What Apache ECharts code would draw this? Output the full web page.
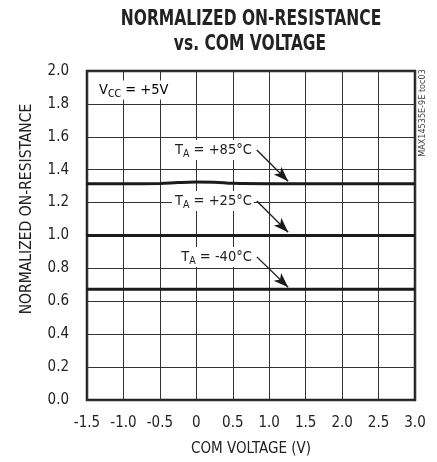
<!DOCTYPE html>
<html>
<head>
<meta charset="utf-8">
<script src="https://cdn.jsdelivr.net/npm/echarts@6/dist/echarts.min.js"></script>
<style>
html,body{margin:0;padding:0;background:#fff;}
#c{width:437px;height:462px;}
</style>
</head>
<body>
<div id="c"></div>
<script>
var FONT = '"Liberation Sans Narrow","DejaVu Sans Condensed",sans-serif';

// tick labels
var xTicks = ['-1.5','-1.0','-0.5','0','0.5','1.0','1.5','2.0','2.5','3.0'];
var yTicks = ['0.0','0.2','0.4','0.6','0.8','1.0','1.2','1.4','1.6','1.8','2.0'];

// series: COM voltage (V) vs normalized on-resistance
var comVoltage = [-1.5, -1.0, -0.5, -0.25, 0, 0.25, 0.5, 1.0, 1.5, 2.0, 2.5, 3.0];
var r85  = [1.315, 1.315, 1.316, 1.322, 1.325, 1.324, 1.317, 1.315, 1.315, 1.315, 1.315, 1.315];
var r25  = [1.0, 1.0, 1.0, 1.0, 1.0, 1.0, 1.0, 1.0, 1.0, 1.0, 1.0, 1.0];
var rm40 = [0.673, 0.673, 0.673, 0.673, 0.673, 0.673, 0.673, 0.673, 0.673, 0.673, 0.673, 0.673];

var seriesNames = ['+85°C', '+25°C', '-40°C'];
var seriesValues = [r85, r25, rm40];

// annotation: arrow tail (label anchor) and tip, in data coordinates
var arrowTail = [[0.83, 1.52], [0.83, 1.21], [0.83, 0.87]];
var arrowTip  = [[1.26, 1.33], [1.26, 1.02], [1.26, 0.685]];

function pairs(xs, ys){ return xs.map(function(x,i){ return [x, ys[i]]; }); }

var rich = {
  t: {fontFamily: FONT, fontSize: 14.5, color: '#222'},
  s: {fontFamily: FONT, fontSize: 10.5, color: '#222', padding: [8,0,0,0]}
};

var series = seriesValues.map(function(vals, i){
  return {
    type: 'line',
    name: seriesNames[i],
    data: pairs(comVoltage, vals),
    smooth: 0.4,
    showSymbol: false,
    lineStyle: {color: '#1a1a1a', width: 3},
    z: 5,
    markLine: {
      silent: true,
      symbol: ['none', 'arrow'],
      symbolSize: [8, 15],
      lineStyle: {color: '#1a1a1a', width: 1.3, type: 'solid'},
      label: {show: false},
      data: [[{coord: arrowTail[i]}, {coord: arrowTip[i]}]]
    },
    markPoint: {
      silent: true,
      symbolSize: 0,
      data: [{coord: arrowTail[i]}],
      label: {
        show: true,
        position: 'left',
        distance: 3,
        backgroundColor: '#fff',
        padding: [1, 2, 0, 3],
        formatter: '{t|T}{s|A}{t| = ' + seriesNames[i] + '}',
        rich: rich
      }
    }
  };
});

var chart = echarts.init(document.getElementById('c'), null, {renderer: 'canvas'});
chart.setOption({
  animation: false,
  backgroundColor: '#fff',
  grid: {left: 87, right: 22, top: 71, bottom: 62, show: true, borderColor: '#222', borderWidth: 2.5, backgroundColor: 'transparent'},
  xAxis: {
    type: 'value', min: -1.5, max: 3.0, interval: 0.5,
    name: 'COM VOLTAGE (V)', nameLocation: 'middle', nameGap: 42,
    nameTextStyle: {fontFamily: FONT, fontSize: 15, color: '#222'},
    axisLine: {show: false}, axisTick: {show: false},
    axisLabel: {margin: 16, fontFamily: FONT, fontSize: 15, color: '#222',
      formatter: function(v){ var i = Math.round((v + 1.5) / 0.5); return xTicks[i]; }},
    splitLine: {show: true, lineStyle: {color: '#333', width: 1}}
  },
  yAxis: {
    type: 'value', min: 0, max: 2.0, interval: 0.2,
    axisLine: {show: false}, axisTick: {show: false},
    axisLabel: {margin: 18, fontFamily: FONT, fontSize: 15, color: '#222',
      formatter: function(v){ var i = Math.round(v / 0.2); return yTicks[i]; }},
    splitLine: {show: true, lineStyle: {color: '#333', width: 1}}
  },
  graphic: [
    {type: 'text', x: 251, y: 20, scaleX: 0.84,
      style: {text: 'NORMALIZED ON-RESISTANCE', fontFamily: FONT, fontWeight: 'bold', fontSize: 20.5, fill: '#222', align: 'center', verticalAlign: 'middle'}},
    {type: 'text', x: 250, y: 45, scaleX: 0.84,
      style: {text: 'vs. COM VOLTAGE', fontFamily: FONT, fontWeight: 'bold', fontSize: 20.5, fill: '#222', align: 'center', verticalAlign: 'middle'}},
    {type: 'text', x: 27, y: 209, rotation: Math.PI/2,
      style: {text: 'NORMALIZED ON-RESISTANCE', fontFamily: FONT, fontSize: 15.5, fill: '#222', align: 'center', verticalAlign: 'middle'}},
    {type: 'text', x: 423, y: 113, rotation: Math.PI/2,
      style: {text: 'MAX14535E-9E toc03', fontFamily: FONT, fontSize: 9, fill: '#444', align: 'center', verticalAlign: 'middle'}},
    {type: 'text', x: 99, y: 90, z: 10,
      style: {text: '{t|V}{s|CC}{t| = +5V}', rich: rich, align: 'left', verticalAlign: 'middle', backgroundColor: '#fff'}}
  ],
  series: series
});
</script>
</body>
</html>
